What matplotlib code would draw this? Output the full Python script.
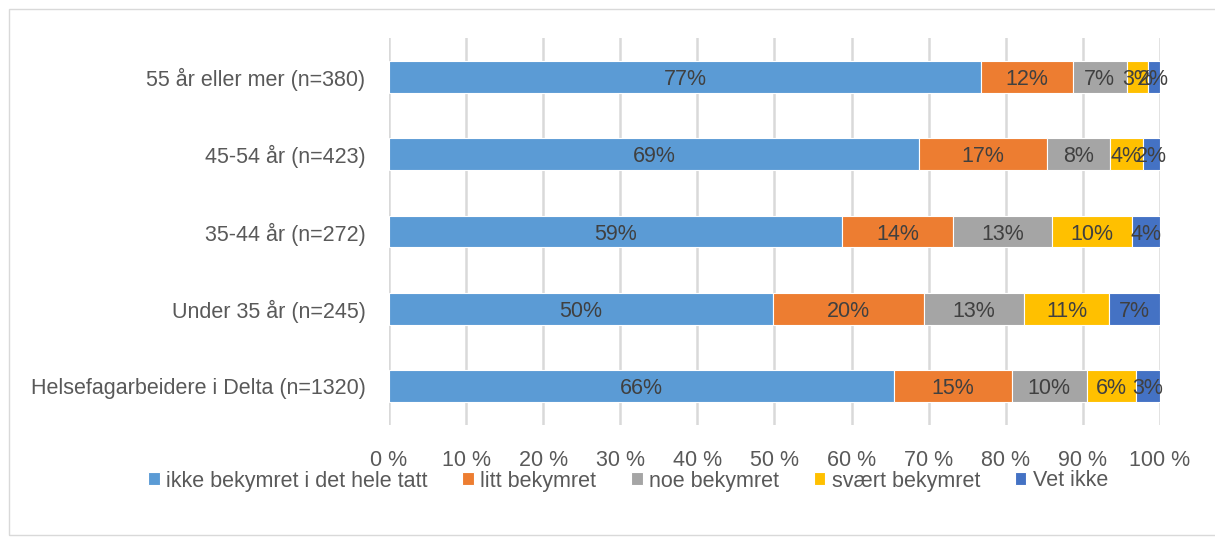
import matplotlib
matplotlib.use("Agg")
import matplotlib.pyplot as plt
from matplotlib.patches import Rectangle
import numpy as np

categories = ["Helsefagarbeidere i Delta (n=1320)", "Under 35 år (n=245)",
              "35-44 år (n=272)", "45-54 år (n=423)", "55 år eller mer (n=380)"]
series_names = ["ikke bekymret i det hele tatt", "litt bekymret", "noe bekymret",
                "svært bekymret", "Vet ikke"]
values = {
    "ikke bekymret i det hele tatt": [65.5, 49.8, 58.8, 68.7, 76.8],
    "litt bekymret": [15.3, 19.6, 14.4, 16.6, 11.9],
    "noe bekymret": [9.7, 13.0, 12.8, 8.2, 7.0],
    "svært bekymret": [6.4, 11.0, 10.4, 4.3, 2.7],
    "Vet ikke": [3.1, 6.6, 3.6, 2.2, 1.6],
}
labels = {
    "ikke bekymret i det hele tatt": ["66%", "50%", "59%", "69%", "77%"],
    "litt bekymret": ["15%", "20%", "14%", "17%", "12%"],
    "noe bekymret": ["10%", "13%", "13%", "8%", "7%"],
    "svært bekymret": ["6%", "11%", "10%", "4%", "3%"],
    "Vet ikke": ["3%", "7%", "4%", "2%", "2%"],
}
colors = ["#5b9bd5", "#ed7d31", "#a5a5a5", "#ffc000", "#4472c4"]
xticks = [0, 10, 20, 30, 40, 50, 60, 70, 80, 90, 100]
xticklabels = [f"{t} %" for t in xticks]

plt.rcParams['font.family'] = ['Liberation Sans', 'DejaVu Sans']
txt = "#595959"
fs = 15.5

fig = plt.figure(figsize=(12.15, 5.42), dpi=100)
fig.patches.append(Rectangle((9/1215, 7/542), 1210/1215, 526/542, transform=fig.transFigure,
                             fill=False, edgecolor="#d9d9d9", linewidth=1))
ax = fig.add_axes([389/1215, 1-425/542, (1160-389)/1215, 387/542])

y = np.arange(len(categories))
left = np.zeros(len(categories))
handles = []
for name, c in zip(series_names, colors):
    v = np.array(values[name])
    b = ax.barh(y, v, left=left, height=0.41, color=c, edgecolor="white", linewidth=0.8, zorder=3)
    handles.append(b)
    for i in range(len(categories)):
        ax.text(left[i] + v[i]/2, y[i], labels[name][i], ha="center", va="center_baseline",
                fontsize=fs, color="#404040", zorder=4)
    left += v

ax.set_xlim(0, 100)
ax.set_ylim(-0.5, 4.5)
ax.set_xticks(xticks)
ax.set_xticklabels(xticklabels, fontsize=fs, color=txt)
ax.set_yticks(y)
ax.set_yticklabels(categories, fontsize=fs, color=txt)
ax.tick_params(length=0)
ax.tick_params(axis="y", pad=17)
ax.tick_params(axis="x", pad=18)
ax.grid(axis="x", color="#d9d9d9", linewidth=1.8, zorder=0)
for s in ax.spines.values():
    s.set_visible(False)

leg = fig.legend(handles, series_names, loc="center", bbox_to_anchor=(628/1215, 1-481/542),
                 ncol=5, frameon=False, fontsize=fs, handlelength=0.55, handleheight=0.55,
                 handletextpad=0.3, columnspacing=1.6, labelcolor=txt)

fig.savefig("out.png", dpi=100)
